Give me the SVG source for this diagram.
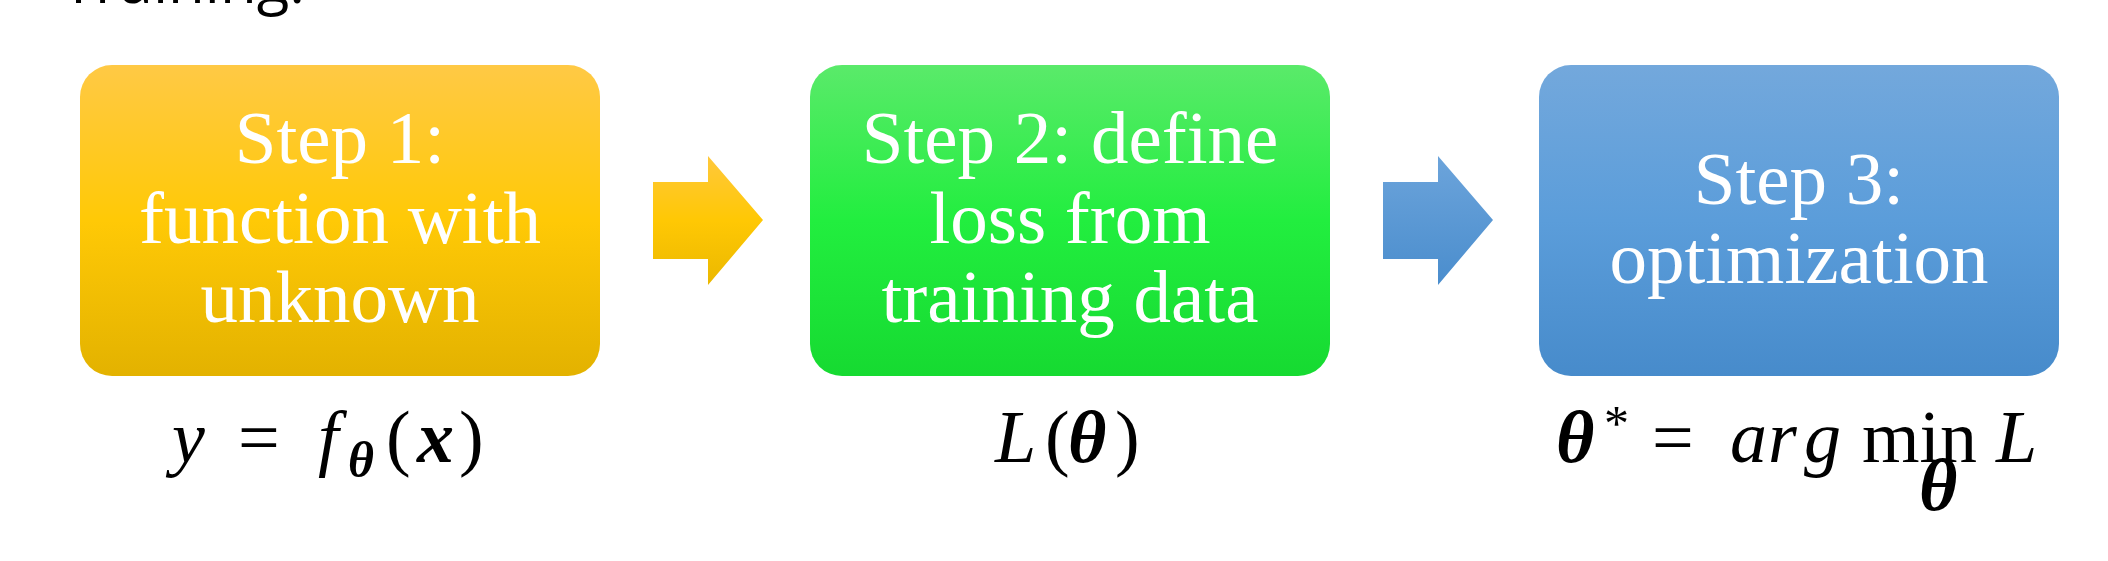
<svg xmlns="http://www.w3.org/2000/svg" width="2108" height="561" viewBox="0 0 2108 561">
<style>
  .step { font-family: "Liberation Serif", "Times New Roman", serif; font-size: 75px; fill: #ffffff; text-anchor: middle; }
  .math { font-family: "Liberation Serif", "Times New Roman", serif; font-size: 74px; fill: #000000; }
  .it { font-style: italic; }
  .bi { font-style: italic; font-weight: bold; }
  .title { font-family: "Open Sans", "Liberation Sans", sans-serif; font-size: 60px; fill: #000000; }
</style>
<defs>
  <linearGradient id="gY" x1="0" y1="0" x2="0" y2="1">
    <stop offset="0" stop-color="#FFC945"/>
    <stop offset="0.5" stop-color="#FFC906"/>
    <stop offset="1" stop-color="#E3B200"/>
  </linearGradient>
  <linearGradient id="gG" x1="0" y1="0" x2="0" y2="1">
    <stop offset="0" stop-color="#5AEA6A"/>
    <stop offset="0.5" stop-color="#22EE3F"/>
    <stop offset="1" stop-color="#16DA31"/>
  </linearGradient>
  <linearGradient id="gB" x1="0" y1="0" x2="0" y2="1">
    <stop offset="0" stop-color="#73A8DC"/>
    <stop offset="0.5" stop-color="#5B9DDA"/>
    <stop offset="1" stop-color="#478BCB"/>
  </linearGradient>
  <linearGradient id="gYa" x1="0" y1="0" x2="0" y2="1">
    <stop offset="0" stop-color="#FFC83C"/>
    <stop offset="0.5" stop-color="#FFC804"/>
    <stop offset="1" stop-color="#EBB800"/>
  </linearGradient>
  <linearGradient id="gBa" x1="0" y1="0" x2="0" y2="1">
    <stop offset="0" stop-color="#6CA4DB"/>
    <stop offset="1" stop-color="#4A8DCD"/>
  </linearGradient>
</defs>

<text id="title" class="title" x="62" y="3">Training:</text>

<g id="step1">
  <rect x="80" y="65" width="520" height="311" rx="32" ry="32" fill="url(#gY)"/>
  <text class="step" x="340" y="163">Step 1:</text>
  <text class="step" x="340" y="243">function with</text>
  <text class="step" x="340" y="322">unknown</text>
</g>

<g id="step2">
  <rect x="810" y="65" width="520" height="311" rx="32" ry="32" fill="url(#gG)"/>
  <text class="step" x="1070" y="163">Step 2: define</text>
  <text class="step" x="1070" y="243">loss from</text>
  <text class="step" x="1070" y="322">training data</text>
</g>

<g id="step3">
  <rect x="1539" y="65" width="520" height="311" rx="32" ry="32" fill="url(#gB)"/>
  <text class="step" x="1799" y="204">Step 3:</text>
  <text class="step" x="1799" y="283">optimization</text>
</g>

<g id="connectors">
  <path d="M653,182 H708 V156 L763,220 L708,285 V259 H653 Z" fill="url(#gYa)"/>
  <path d="M1383,182 H1438 V156 L1493,220 L1438,285 V259 H1383 Z" fill="url(#gBa)"/>
</g>

<g id="formula1">
  <text class="math" y="462"><tspan class="it" x="172">y</tspan><tspan x="238">=</tspan><tspan class="it" x="318">f</tspan><tspan class="bi" x="348" y="477" font-size="50">θ</tspan><tspan x="386" y="462">(</tspan><tspan class="bi" x="417">x</tspan><tspan x="459">)</tspan></text>
</g>

<g id="formula2">
  <text class="math" y="462"><tspan class="it" x="995">L</tspan><tspan x="1045">(</tspan><tspan class="bi" x="1068">θ</tspan><tspan x="1115">)</tspan></text>
</g>

<g id="formula3">
  <text class="math" y="462"><tspan class="bi" x="1556">θ</tspan><tspan x="1604" y="440" font-size="50">*</tspan><tspan x="1652" y="462">=</tspan><tspan class="it" x="1730">a</tspan><tspan class="it" x="1768">r</tspan><tspan class="it" x="1804">g</tspan><tspan x="1862">min</tspan><tspan class="it" x="1996">L</tspan></text>
  <text class="math bi" x="1919" y="510" font-size="44">θ</text>
</g>
</svg>
